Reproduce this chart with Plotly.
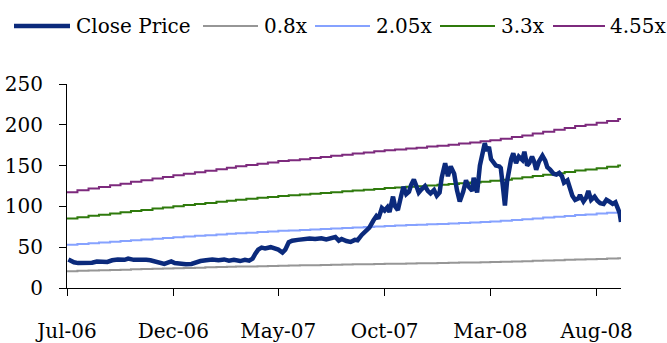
import plotly.graph_objects as go

# Daily close price (sampled) in local currency
close_dates = [
    "2006-07-03", "2006-07-05", "2006-07-11", "2006-07-17", "2006-07-27", "2006-08-06",
    "2006-08-13", "2006-08-22", "2006-08-28", "2006-09-04", "2006-09-12", "2006-09-22",
    "2006-09-27", "2006-10-05", "2006-10-14", "2006-10-23", "2006-10-29", "2006-11-05",
    "2006-11-12", "2006-11-18", "2006-11-23", "2006-11-28", "2006-12-03", "2006-12-11",
    "2006-12-19", "2006-12-27", "2007-01-03", "2007-01-09", "2007-01-17", "2007-01-26",
    "2007-02-04", "2007-02-12", "2007-02-19", "2007-02-26", "2007-03-07", "2007-03-14",
    "2007-03-20", "2007-03-25", "2007-03-29", "2007-04-02", "2007-04-07", "2007-04-12",
    "2007-04-20", "2007-04-25", "2007-05-01", "2007-05-07", "2007-05-11", "2007-05-16",
    "2007-05-21", "2007-05-29", "2007-06-06", "2007-06-15", "2007-06-23", "2007-07-02",
    "2007-07-09", "2007-07-17", "2007-07-22", "2007-07-27", "2007-07-31", "2007-08-07",
    "2007-08-13", "2007-08-19", "2007-08-23", "2007-08-29", "2007-09-04", "2007-09-09",
    "2007-09-15", "2007-09-19", "2007-09-22", "2007-09-27", "2007-10-01", "2007-10-05",
    "2007-10-08", "2007-10-13", "2007-10-16", "2007-10-20", "2007-10-25", "2007-10-28",
    "2007-11-01", "2007-11-05", "2007-11-08", "2007-11-12", "2007-11-16", "2007-11-19",
    "2007-11-23", "2007-11-28", "2007-12-02", "2007-12-06", "2007-12-11", "2007-12-15",
    "2007-12-19", "2007-12-22", "2007-12-27", "2007-12-31", "2008-01-04", "2008-01-09",
    "2008-01-13", "2008-01-17", "2008-01-22", "2008-01-26", "2008-01-30", "2008-02-04",
    "2008-02-06", "2008-02-11", "2008-02-15", "2008-02-19", "2008-02-22", "2008-02-25",
    "2008-02-28", "2008-03-02", "2008-03-05", "2008-03-09", "2008-03-14", "2008-03-16",
    "2008-03-19", "2008-03-22", "2008-03-25", "2008-03-28", "2008-03-31", "2008-04-03",
    "2008-04-07", "2008-04-11", "2008-04-16", "2008-04-19", "2008-04-23", "2008-04-26",
    "2008-04-30", "2008-05-03", "2008-05-06", "2008-05-10", "2008-05-15", "2008-05-19",
    "2008-05-22", "2008-05-26", "2008-05-31", "2008-06-04", "2008-06-08", "2008-06-12",
    "2008-06-15", "2008-06-20", "2008-06-24", "2008-06-27", "2008-07-01", "2008-07-06",
    "2008-07-08", "2008-07-13", "2008-07-17", "2008-07-20", "2008-07-24", "2008-07-29",
    "2008-08-02", "2008-08-06", "2008-08-11", "2008-08-15", "2008-08-19", "2008-08-24",
    "2008-08-28", "2008-08-31", "2008-09-03", "2008-09-05",
]
close_values = [
    35, 34, 31.5, 30.5, 30.5, 31,
    32.5, 33, 32, 34, 35, 34.5,
    36, 34.5, 35, 34.5, 34, 32,
    30.5, 29.5, 31, 32.5, 30.5, 29.5,
    29, 29.5, 31.5, 33, 34, 35,
    34, 35, 33.5, 34.5, 33, 34.5,
    33.5, 36, 42, 47, 49.5, 48.5,
    50, 48.5, 47, 43.5, 47, 56,
    58, 59, 60, 60.5, 60, 61,
    59.5, 61, 62.5, 58, 60, 57.5,
    56.5, 59, 58.5, 65, 71, 74,
    83, 88, 85, 98, 95, 99,
    93, 112, 100, 95.5, 114, 124,
    115, 118, 126, 133, 124, 117,
    121, 125, 119, 116, 120, 113,
    117, 135, 153, 137, 149, 140,
    120, 106, 118, 132, 124, 119,
    135, 117, 150, 170, 177.5, 168,
    173, 158, 154, 150, 149, 147,
    125, 101, 130, 148, 158, 165,
    153, 161, 157, 167, 150, 153,
    161, 155, 145, 155, 162, 156,
    148, 145, 140, 139, 141, 137,
    129, 132, 123, 113, 108, 110,
    114, 106, 111, 119, 108, 112,
    107, 104, 103, 108, 106, 103,
    105, 100, 92, 81,
]

# Earnings base per share used for the multiple bands (updated twice a month)
base_dates = [
    "2006-07-01", "2006-07-16", "2006-08-01", "2006-08-16", "2006-09-01", "2006-09-16",
    "2006-10-01", "2006-10-16", "2006-11-01", "2006-11-16", "2006-12-01", "2006-12-16",
    "2007-01-01", "2007-01-16", "2007-02-01", "2007-02-16", "2007-03-01", "2007-03-16",
    "2007-04-01", "2007-04-16", "2007-05-01", "2007-05-16", "2007-06-01", "2007-06-16",
    "2007-07-01", "2007-07-16", "2007-08-01", "2007-08-16", "2007-09-01", "2007-09-16",
    "2007-10-01", "2007-10-16", "2007-11-01", "2007-11-16", "2007-12-01", "2007-12-16",
    "2008-01-01", "2008-01-16", "2008-02-01", "2008-02-16", "2008-03-01", "2008-03-16",
    "2008-04-01", "2008-04-16", "2008-05-01", "2008-05-16", "2008-06-01", "2008-06-16",
    "2008-07-01", "2008-07-16", "2008-08-01", "2008-08-16", "2008-09-01", "2008-09-05",
]
base_values = [
    25.8, 26.3, 26.8, 27.2, 27.7, 28.1,
    28.6, 29.0, 29.5, 29.9, 30.4, 30.8,
    31.2, 31.6, 32.0, 32.4, 32.8, 33.1,
    33.5, 33.8, 34.2, 34.4, 34.7, 35.0,
    35.3, 35.6, 35.9, 36.2, 36.5, 36.8,
    37.1, 37.3, 37.6, 37.8, 38.1, 38.3,
    38.6, 38.9, 39.2, 39.5, 39.8, 40.2,
    40.7, 41.1, 41.6, 42.1, 42.6, 43.1,
    43.6, 44.0, 44.5, 45.0, 45.5, 45.7,
]

multiples = [0.8, 2.05, 3.3, 4.55]
band_names = ["0.8x", "2.05x", "3.3x", "4.55x"]
band_colors = ["#969696", "#86A2FF", "#2F7A0C", "#7D2A7D"]
close_color = "#0B2A7C"

x_ticks = ["2006-07-01", "2006-12-01", "2007-05-01", "2007-10-01", "2008-03-01", "2008-08-01"]
x_tick_labels = ["Jul-06", "Dec-06", "May-07", "Oct-07", "Mar-08", "Aug-08"]
y_ticks = [0, 50, 100, 150, 200, 250]

FONT = "DejaVu Serif"

fig = go.Figure()

for m, name, col in zip(multiples, band_names, band_colors):
    fig.add_trace(go.Scatter(
        x=base_dates, y=[round(v * m, 2) for v in base_values],
        mode="lines", name=name, line=dict(color=col, width=2, shape="hv"),
        showlegend=False,
    ))

fig.add_trace(go.Scatter(
    x=close_dates, y=close_values, mode="lines", name="Close Price",
    line=dict(color=close_color, width=4.5), showlegend=False,
))

# Legend row drawn in paper space above the plot
W_PLOT = 554.0
H_PLOT = 204.0
M_L, M_B = 67, 55
H_FIG = 343


def px_x(px):
    return (px - M_L) / W_PLOT


def px_y(py):
    return (H_FIG - M_B - py) / H_PLOT


legend_items = [
    ("Close Price", close_color, 4.5, 14, 70, 75),
    ("0.8x", band_colors[0], 2, 203, 258, 263),
    ("2.05x", band_colors[1], 2, 315, 370, 375),
    ("3.3x", band_colors[2], 2, 440, 495, 500),
    ("4.55x", band_colors[3], 2, 553, 605, 609),
]
LEG_Y = 26
for label, col, w, x0, x1, tx in legend_items:
    fig.add_shape(type="line", xref="paper", yref="paper",
                  x0=px_x(x0), x1=px_x(x1), y0=px_y(LEG_Y), y1=px_y(LEG_Y),
                  line=dict(color=col, width=w))
    fig.add_annotation(xref="paper", yref="paper", x=px_x(tx), y=px_y(LEG_Y),
                       text=label, showarrow=False, xanchor="left", yanchor="middle",
                       borderpad=0, font=dict(family=FONT, size=20, color="#000000"))

fig.update_layout(
    width=667, height=343,
    margin=dict(l=M_L, r=46, t=84, b=M_B, autoexpand=False),
    paper_bgcolor="white", plot_bgcolor="white",
    font=dict(family=FONT, size=20, color="#000000"),
    showlegend=False,
    xaxis=dict(
        type="date", range=["2006-07-01", "2008-09-05"], automargin=False,
        tickmode="array", tickvals=x_ticks, ticktext=x_tick_labels,
        showgrid=False, zeroline=False,
        showline=True, linecolor="#000000", linewidth=1,
        ticks="outside", ticklen=7, tickcolor="#000000", tickwidth=1,
        ticklabelstandoff=18,
    ),
    yaxis=dict(
        range=[0, 250], tickmode="array", tickvals=y_ticks, automargin=False,
        showgrid=False, zeroline=False,
        showline=True, linecolor="#000000", linewidth=1,
        ticks="outside", ticklen=7, tickcolor="#000000", tickwidth=1,
        ticklabelstandoff=12,
    ),
)

fig.write_html("out.html")
